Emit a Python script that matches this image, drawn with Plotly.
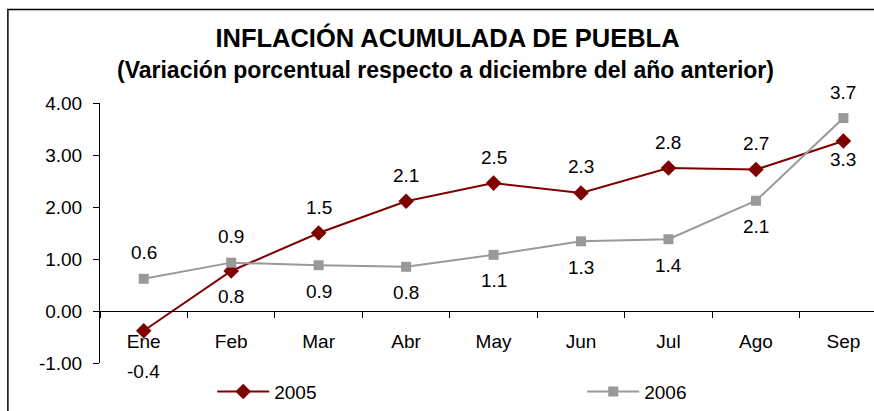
import plotly.graph_objects as go

meses = ["Ene", "Feb", "Mar", "Abr", "May", "Jun", "Jul", "Ago", "Sep"]
infl_2005 = [-0.38, 0.77, 1.50, 2.11, 2.46, 2.27, 2.75, 2.72, 3.27]
infl_2006 = [0.62, 0.93, 0.88, 0.85, 1.08, 1.34, 1.38, 2.12, 3.71]
# where the data label sits: 1 = above the point, -1 = below
lado_2005 = [-1, -1, 1, 1, 1, 1, 1, 1, -1]
lado_2006 = [1, 1, -1, -1, -1, -1, -1, -1, 1]
y_ticks = [-1, 0, 1, 2, 3, 4]

titulo = "INFLACIÓN ACUMULADA DE PUEBLA"
subtitulo = "(Variación porcentual respecto a diciembre del año anterior)"

FONT = "Arial, 'Liberation Sans', sans-serif"
ROJO = "#800000"
GRIS = "#999999"

fig = go.Figure()
fig.add_trace(go.Scatter(
    x=meses, y=infl_2005, name="2005", mode="lines+markers",
    line=dict(color=ROJO, width=2),
    marker=dict(symbol="diamond", size=12, color=ROJO),
))
fig.add_trace(go.Scatter(
    x=meses, y=infl_2006, name="2006", mode="lines+markers",
    line=dict(color=GRIS, width=2),
    marker=dict(symbol="square", size=10, color=GRIS),
))

# data labels, one decimal
for vals, lados in [(infl_2005, lado_2005), (infl_2006, lado_2006)]:
    for m, v, s in zip(meses, vals, lados):
        shift = 26 * s
        if m == "Ene" and v < 0:
            shift = -41  # pushed below the category label
        if m == "Sep" and s < 0:
            shift = -19
        fig.add_annotation(x=m, y=v, text=f"{v:.1f}", showarrow=False,
                           yshift=shift, font=dict(size=19, color="black"))

fig.add_annotation(text=f"<b>{subtitulo}</b>", xref="paper", yref="paper",
                   x=0.447, y=1.127, yanchor="middle", showarrow=False,
                   font=dict(size=23))

# outer frame of the chart (right and bottom edges fall outside the picture)
fig.add_shape(type="rect", xref="paper", yref="paper",
              x0=-0.119, x1=1.05, y0=-0.4, y1=1.36,
              line=dict(color="black", width=1.5), layer="above")

fig.update_layout(
    width=874, height=411,
    margin=dict(l=100, r=0, t=103, b=48, autoexpand=False),
    paper_bgcolor="white", plot_bgcolor="white",
    font=dict(family=FONT, size=19, color="black"),
    title=dict(
        text=f"<b>{titulo}</b>",
        x=0.512, xref="container", xanchor="center",
        y=0.907, yref="container", yanchor="middle",
        font=dict(size=25.5),
    ),
    showlegend=True,
    legend=dict(orientation="h", x=0.145, xanchor="left", y=-0.11, yanchor="middle",
                entrywidth=303, entrywidthmode="pixels", itemwidth=52,
                font=dict(size=19), bgcolor="rgba(0,0,0,0)"),
    xaxis=dict(
        type="category", range=[-0.5, 8.35], anchor="free", position=0.2,
        showline=True, linecolor="black", linewidth=1,
        ticks="outside", tickson="boundaries", ticklen=6, tickcolor="black",
        ticklabelstandoff=13, showgrid=False, zeroline=False,
        tickfont=dict(size=19), automargin=False,
    ),
    yaxis=dict(
        range=[-1, 4], tickvals=y_ticks, ticktext=[f"{t:.2f}" for t in y_ticks],
        showline=True, linecolor="black", linewidth=1,
        ticks="outside", ticklen=6, tickcolor="black", ticklabelstandoff=7,
        showgrid=False, zeroline=False, tickfont=dict(size=19), automargin=False,
    ),
)

# drop the page's default body margin so the figure sits at the window corner
fig.write_html("out.html", config={"displayModeBar": False},
               post_script="document.body.style.margin = '0';")
